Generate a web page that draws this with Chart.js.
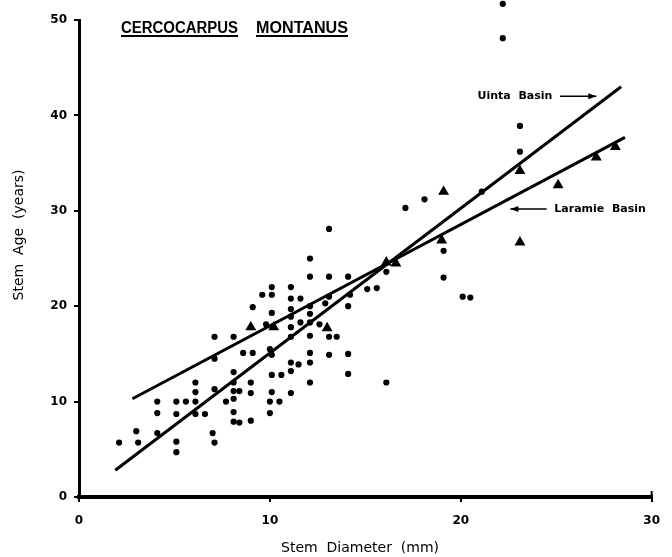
<!DOCTYPE html>
<html>
<head>
<meta charset="utf-8">
<script src="https://cdn.jsdelivr.net/npm/chart.js@4"></script>
<style>
  html, body { margin: 0; padding: 0; background: #fff; }
  #wrap { width: 672px; height: 557px; }
</style>
</head>
<body>
<div id="wrap"><canvas id="stemChart" width="672" height="557"></canvas></div>
<script>
// Uinta Basin samples (dots)
const uintaX = [2.1, 3.0, 3.1, 4.1, 4.1, 4.1, 5.1, 5.1, 5.1, 5.1, 5.6, 6.1, 6.1, 6.1, 6.1, 6.6,
  7.1, 7.1, 7.1, 7.0, 7.1, 7.7, 8.1, 8.1, 8.1, 8.1, 8.1, 8.1, 8.1, 8.4, 8.4, 8.6,
  9.1, 9.1, 9.0, 9.0, 9.0, 9.6, 9.8, 10.1, 10.1, 10.1, 10.0, 10.1, 10.1, 10.6, 10.1, 10.0,
  10.5, 10.0, 11.1, 11.1, 11.6, 11.1, 11.1, 11.6, 11.1, 11.1, 11.1, 11.5, 11.1, 11.1,
  12.1, 12.1, 12.1, 12.1, 12.1, 12.1, 12.1, 12.1, 12.1, 12.6, 12.9, 13.1, 13.1, 13.1,
  13.1, 13.5, 13.1, 14.1, 14.2, 14.1, 14.1, 14.1, 15.1, 15.6, 16.1, 16.1, 17.1, 18.1,
  19.1, 19.1, 20.1, 20.5, 21.1, 22.2, 22.2, 23.1, 23.1];
const uintaY = [5.7, 6.9, 5.7, 10.0, 8.8, 6.7, 10.0, 8.7, 5.8, 4.7, 10.0, 12.0, 11.0, 10.0, 8.7, 8.7,
  16.8, 14.5, 11.3, 6.7, 5.7, 10.0, 16.8, 13.1, 12.0, 11.1, 10.3, 8.9, 7.9, 7.8, 11.1, 15.1,
  15.1, 19.9, 12.0, 10.9, 8.0, 21.2, 18.1, 22.0, 21.2, 19.3, 15.5, 14.9, 12.8, 12.8, 11.0, 10.0,
  10.0, 8.8, 22.0, 20.8, 20.8, 19.7, 18.9, 18.3, 17.8, 16.8, 14.1, 13.9, 13.2, 10.9,
  25.0, 23.1, 20.0, 19.2, 18.3, 16.9, 15.1, 14.1, 12.0, 18.1, 20.3, 28.1, 23.1, 21.0,
  16.8, 16.8, 14.9, 23.1, 21.2, 20.0, 15.0, 12.9, 21.8, 21.9, 23.6, 12.0, 30.3, 31.2,
  25.8, 23.0, 21.0, 20.9, 32.0, 51.7, 48.1, 38.9, 36.2];

// Laramie Basin samples (triangles)
const laramieX = [9.0, 10.2, 13.0, 16.1, 16.6, 19.0, 19.1, 23.1, 23.1, 25.1, 27.1, 28.1];
const laramieY = [17.8, 17.8, 17.7, 24.6, 24.5, 26.9, 32.0, 34.2, 26.7, 32.7, 35.6, 36.7];

// fitted lines (end points)
const uintaLineX = [1.9, 28.4];
const uintaLineY = [2.8, 43.0];
const laramieLineX = [2.8, 28.6];
const laramieLineY = [10.3, 37.7];

const xTicks = [0, 10, 20, 30];
const yTicks = [0, 10, 20, 30, 40, 50];

const toPts = (xs, ys) => xs.map((x, i) => ({ x, y: ys[i] }));

function arrow(ctx, x1, y1, x2, y2) {
  ctx.beginPath();
  ctx.moveTo(x1, y1);
  ctx.lineTo(x2, y2);
  ctx.stroke();
  const dir = Math.sign(x2 - x1);
  ctx.beginPath();
  ctx.moveTo(x2, y2);
  ctx.lineTo(x2 - dir * 8, y2 - 3);
  ctx.lineTo(x2 - dir * 8, y2 + 3);
  ctx.closePath();
  ctx.fill();
}

function fitText(ctx, text, left, baseline, width) {
  const w = ctx.measureText(text).width;
  ctx.save();
  ctx.translate(left, baseline);
  ctx.scale(width / w, 1);
  ctx.fillText(text, 0, 0);
  ctx.restore();
}

const labelsPlugin = {
  id: 'labels',
  afterDatasetsDraw(chart) {
    // Chart.js skips points outside the chart area; draw those at the positions it computed
    const { ctx, chartArea: a } = chart;
    ctx.save();
    ctx.fillStyle = '#000';
    chart.getDatasetMeta(0).data.forEach(el => {
      if (el.y < a.top - 3 || el.y > a.bottom + 3) {
        ctx.beginPath();
        ctx.arc(el.x, el.y, el.options.radius, 0, Math.PI * 2);
        ctx.fill();
      }
    });
    ctx.restore();
  },
  afterDraw(chart) {
    const { ctx, scales: { x, y } } = chart;
    ctx.save();
    ctx.fillStyle = '#000';
    ctx.strokeStyle = '#000';

    // title, each word underlined
    ctx.font = 'bold 16px "Liberation Sans"';
    ctx.textBaseline = 'alphabetic';
    fitText(ctx, 'CERCOCARPUS', 121, 33, 117);
    fitText(ctx, 'MONTANUS', 256, 33, 92);
    ctx.fillRect(121, 35, 117, 2);
    ctx.fillRect(256, 35, 92, 2);

    // axis titles
    ctx.font = '14px "DejaVu Sans"';
    ctx.textAlign = 'center';
    ctx.textBaseline = 'middle';
    ctx.fillText('Stem  Diameter  (mm)', 360, 548);
    ctx.save();
    ctx.translate(19, 235);
    ctx.rotate(-Math.PI / 2);
    ctx.fillText('Stem  Age  (years)', 0, 0);
    ctx.restore();

    // small upward tick closing the x axis
    ctx.fillRect(x.getPixelForValue(30) - 1, y.bottom - 6, 2, 6);

    // basin labels with arrows
    ctx.font = 'bold 11px "DejaVu Sans"';
    ctx.lineWidth = 1.5;
    ctx.textAlign = 'right';
    const uy = y.getPixelForValue(42.0);
    ctx.fillText('Uinta  Basin', x.getPixelForValue(24.8), uy);
    arrow(ctx, x.getPixelForValue(25.2), uy, x.getPixelForValue(27.1), uy);

    ctx.textAlign = 'left';
    const ly = y.getPixelForValue(30.2);
    ctx.fillText('Laramie  Basin', x.getPixelForValue(24.9), ly);
    arrow(ctx, x.getPixelForValue(24.5), ly, x.getPixelForValue(22.6), ly);
    ctx.restore();
  }
};

const tickFont = { family: 'DejaVu Sans', size: 12, weight: 'bold' };

new Chart(document.getElementById('stemChart'), {
  type: 'scatter',
  data: {
    datasets: [
      {
        label: 'Uinta Basin',
        data: toPts(uintaX, uintaY),
        pointStyle: 'circle',
        pointRadius: 3.1,
        backgroundColor: '#000',
        borderColor: '#000',
        borderWidth: 0,
        clip: false
      },
      {
        label: 'Laramie Basin',
        data: toPts(laramieX, laramieY),
        pointStyle: 'triangle',
        pointRadius: 6.3,
        backgroundColor: '#000',
        borderColor: '#000',
        borderWidth: 0,
        clip: false
      },
      {
        type: 'line',
        label: 'Uinta fit',
        data: toPts(uintaLineX, uintaLineY),
        borderColor: '#000',
        borderWidth: 3,
        pointRadius: 0,
        fill: false,
        clip: false
      },
      {
        type: 'line',
        label: 'Laramie fit',
        data: toPts(laramieLineX, laramieLineY),
        borderColor: '#000',
        borderWidth: 3,
        pointRadius: 0,
        fill: false,
        clip: false
      }
    ]
  },
  options: {
    responsive: false,
    animation: false,
    devicePixelRatio: 1,
    layout: { padding: { left: 0, top: 20, right: 19, bottom: 0 } },
    plugins: { legend: { display: false }, tooltip: { enabled: false } },
    scales: {
      x: {
        type: 'linear',
        min: 0,
        max: 30,
        afterBuildTicks: s => { s.ticks = xTicks.map(v => ({ value: v })); },
        afterFit: s => { s.height = 60; },
        ticks: { color: '#000', font: tickFont, padding: 12, maxRotation: 0 },
        grid: { drawOnChartArea: false, drawTicks: true, tickLength: 5, color: '#000', lineWidth: 2 },
        border: { display: true, color: '#000', width: 4 }
      },
      y: {
        type: 'linear',
        min: 0,
        max: 50,
        afterBuildTicks: s => { s.ticks = yTicks.map(v => ({ value: v })); },
        afterFit: s => { s.width = 79; },
        ticks: { color: '#000', font: tickFont, padding: 7 },
        grid: { drawOnChartArea: false, drawTicks: true, tickLength: 5, color: '#000', lineWidth: 2 },
        border: { display: true, color: '#000', width: 3 }
      }
    }
  },
  plugins: [labelsPlugin]
});
</script>
</body>
</html>
